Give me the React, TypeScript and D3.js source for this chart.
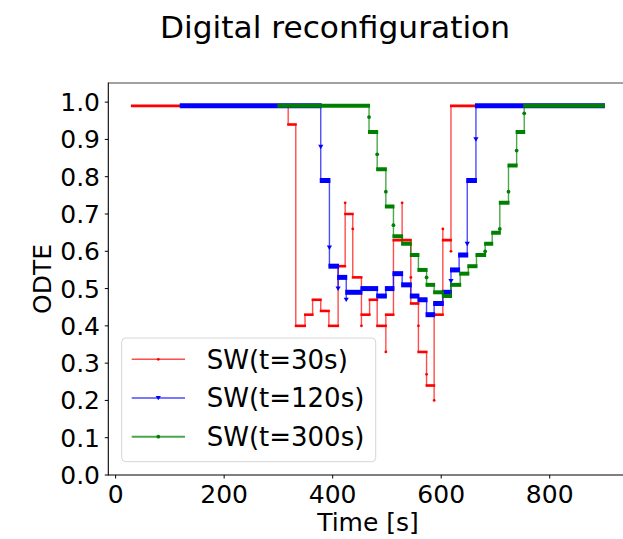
import React from 'react';
import * as d3 from 'd3';

const W = 623;
const H = 539;

const titleText = 'Digital reconfiguration';
const xLabel = 'Time [s]';
const yLabel = 'ODTE';
const xTicks = [0, 200, 400, 600, 800];
const yTicks = [0, 0.1, 0.2, 0.3, 0.4, 0.5, 0.6, 0.7, 0.8, 0.9, 1.0];

const seriesNames = ['SW(t=30s)', 'SW(t=120s)', 'SW(t=300s)'];
const seriesColors = ['#ff0000', '#0000ff', '#008000'];
const seriesMarkers = ['dot', 'tri', 'dot'];

// [start time, end time, ODTE]; start === end marks a single sample inside a transition
const sw30: [number, number, number][] = [
  [30, 318, 0.99], [318, 332, 0.94], [332, 349, 0.4], [349, 363, 0.43], [363, 378, 0.47],
  [378, 393, 0.44], [393, 410, 0.4], [410, 423, 0.56], [423, 423, 0.73], [423, 437, 0.7],
  [437, 437, 0.66], [437, 453, 0.53], [453, 453, 0.4], [453, 468, 0.43], [468, 482, 0.47],
  [482, 498, 0.4], [498, 498, 0.33], [498, 512, 0.43], [512, 528, 0.63], [528, 528, 0.73],
  [528, 544, 0.63], [544, 544, 0.53], [544, 558, 0.46], [558, 558, 0.4], [558, 573, 0.33],
  [573, 573, 0.27], [573, 587, 0.24], [587, 587, 0.2], [587, 603, 0.43], [603, 603, 0.66],
  [603, 618, 0.63], [618, 618, 0.6], [618, 900, 0.99],
];
const sw120: [number, number, number][] = [
  [120, 378, 0.99], [378, 378, 0.88], [378, 394, 0.79], [394, 394, 0.61], [394, 410, 0.56],
  [410, 410, 0.5], [410, 425, 0.53], [425, 425, 0.47], [425, 453, 0.49], [453, 482, 0.5],
  [482, 498, 0.48], [498, 512, 0.5], [512, 528, 0.54], [528, 544, 0.51], [544, 558, 0.48],
  [558, 573, 0.47], [573, 587, 0.43], [587, 603, 0.46], [603, 618, 0.49], [618, 618, 0.52],
  [618, 633, 0.55], [633, 648, 0.59], [648, 648, 0.62], [648, 664, 0.79], [664, 664, 0.9],
  [664, 900, 0.99],
];
const sw300: [number, number, number][] = [
  [300, 467, 0.99], [467, 467, 0.96], [467, 482, 0.92], [482, 482, 0.86], [482, 498, 0.82],
  [498, 498, 0.76], [498, 512, 0.72], [512, 512, 0.67], [512, 528, 0.64], [528, 544, 0.62],
  [544, 558, 0.59], [558, 573, 0.55], [573, 573, 0.53], [573, 587, 0.51], [587, 603, 0.49],
  [603, 618, 0.48], [618, 635, 0.51], [635, 650, 0.54], [650, 665, 0.56], [665, 681, 0.59],
  [681, 681, 0.6], [681, 694, 0.62], [694, 708, 0.65], [708, 708, 0.66], [708, 724, 0.73],
  [724, 724, 0.76], [724, 739, 0.83], [739, 739, 0.87], [739, 753, 0.92], [753, 753, 0.97],
  [753, 900, 0.99],
];
const seriesData = [sw30, sw120, sw300];

const bandWidths = [2.6, 5, 4];

const left = 108.3;
const right = 627.6;
const top = 83.5;
const bottom = 475;

const x = d3.scaleLinear().domain([-13.5, 943.5]).range([left, right]);
const y = d3.scaleLinear().domain([0, 1.05]).range([bottom, top]);

const line = d3
  .line<[number, number]>()
  .x((d) => x(d[0]))
  .y((d) => y(d[1]));

const font = 'DejaVu Sans, sans-serif';

function Marker({ kind, cx, cy, color, size }: { kind: string; cx: number; cy: number; color: string; size: number }) {
  if (kind === 'tri') {
    const s = size;
    return (
      <path
        d={`M${cx - s},${cy - s * 0.8}L${cx + s},${cy - s * 0.8}L${cx},${cy + s * 0.9}Z`}
        fill={color}
      />
    );
  }
  return <circle cx={cx} cy={cy} r={size} fill={color} />;
}

export default function App() {
  return (
    <svg
      width={W}
      height={H}
      style={{ position: 'absolute', left: 0, top: 0, background: '#fff' }}
      fontFamily={font}
    >
      <rect x={0} y={0} width={W} height={H} fill="#fff" />
      <defs>
        <clipPath id="plotclip">
          <rect x={left} y={top} width={right - left} height={bottom - top} />
        </clipPath>
      </defs>

      <text x={335} y={38} fontSize={30} textAnchor="middle" textLength={350} lengthAdjust="spacingAndGlyphs" fill="#000">
        {titleText}
      </text>

      <g clipPath="url(#plotclip)">
        {seriesData.map((data, si) => {
          const pts: [number, number][] = data.flatMap((d) => [
            [d[0], d[2]] as [number, number],
            [d[1], d[2]] as [number, number],
          ]);
          const color = seriesColors[si];
          return (
            <g key={si}>
              <path d={line(pts) || ''} fill="none" stroke={color} strokeWidth={1.4} strokeOpacity={0.7} />
              {data
                .filter((d) => d[1] > d[0])
                .map((d, i) => (
                  <line
                    key={'b' + i}
                    x1={x(d[0]) - 1}
                    x2={x(d[1]) + 1}
                    y1={y(d[2])}
                    y2={y(d[2])}
                    stroke={color}
                    strokeWidth={bandWidths[si]}
                  />
                ))}
              {data
                .filter((d) => d[1] === d[0])
                .map((d, i) => (
                  <Marker
                    key={'m' + i}
                    kind={seriesMarkers[si]}
                    cx={x(d[0])}
                    cy={y(d[2])}
                    color={color}
                    size={si === 0 ? 1.4 : si === 1 ? 2.6 : 1.9}
                  />
                ))}
            </g>
          );
        })}
      </g>

      {/* spines */}
      <line x1={left} x2={right} y1={83} y2={83} stroke="#444" strokeWidth={1} />
      <line x1={left} x2={left} y1={top - 1} y2={bottom + 0.5} stroke="#000" strokeWidth={1.1} />
      <line x1={left} x2={right} y1={bottom} y2={bottom} stroke="#000" strokeWidth={1.1} />

      {/* y axis */}
      {yTicks.map((t) => (
        <g key={'y' + t}>
          <line x1={left - 3.5} x2={left} y1={y(t)} y2={y(t)} stroke="#000" strokeWidth={1} />
          <text x={100} y={y(t)} dy="0.36em" fontSize={25} textAnchor="end" fill="#000">
            {t.toFixed(1)}
          </text>
        </g>
      ))}
      {/* x axis */}
      {xTicks.map((t) => (
        <g key={'x' + t}>
          <line x1={x(t)} x2={x(t)} y1={bottom} y2={bottom + 3.5} stroke="#000" strokeWidth={1} />
          <text x={x(t)} y={503} fontSize={25} textAnchor="middle" fill="#000">
            {t}
          </text>
        </g>
      ))}
      <text x={368} y={531} fontSize={25} textAnchor="middle" fill="#000">
        {xLabel}
      </text>
      <text transform={`translate(51,279) rotate(-90)`} fontSize={25} textAnchor="middle" fill="#000">
        {yLabel}
      </text>

      {/* legend */}
      <rect x={121.7} y={338} width={254} height={123.7} rx={4} fill="#fff" fillOpacity={0.8} stroke="#d6d6d6" strokeWidth={1} />
      {seriesNames.map((name, i) => {
        const cy = 359.3 + i * 38.7;
        return (
          <g key={name}>
            <line x1={131.7} x2={185} y1={cy} y2={cy} stroke={seriesColors[i]} strokeWidth={i === 2 ? 2 : 1.4} strokeOpacity={0.7} />
            <Marker kind={seriesMarkers[i]} cx={158.3} cy={cy} color={seriesColors[i]} size={i === 0 ? 1.4 : i === 1 ? 2.6 : 1.9} />
            <text x={206.7} y={cy} dy="0.36em" fontSize={26} fill="#000">
              {name}
            </text>
          </g>
        );
      })}
    </svg>
  );
}
